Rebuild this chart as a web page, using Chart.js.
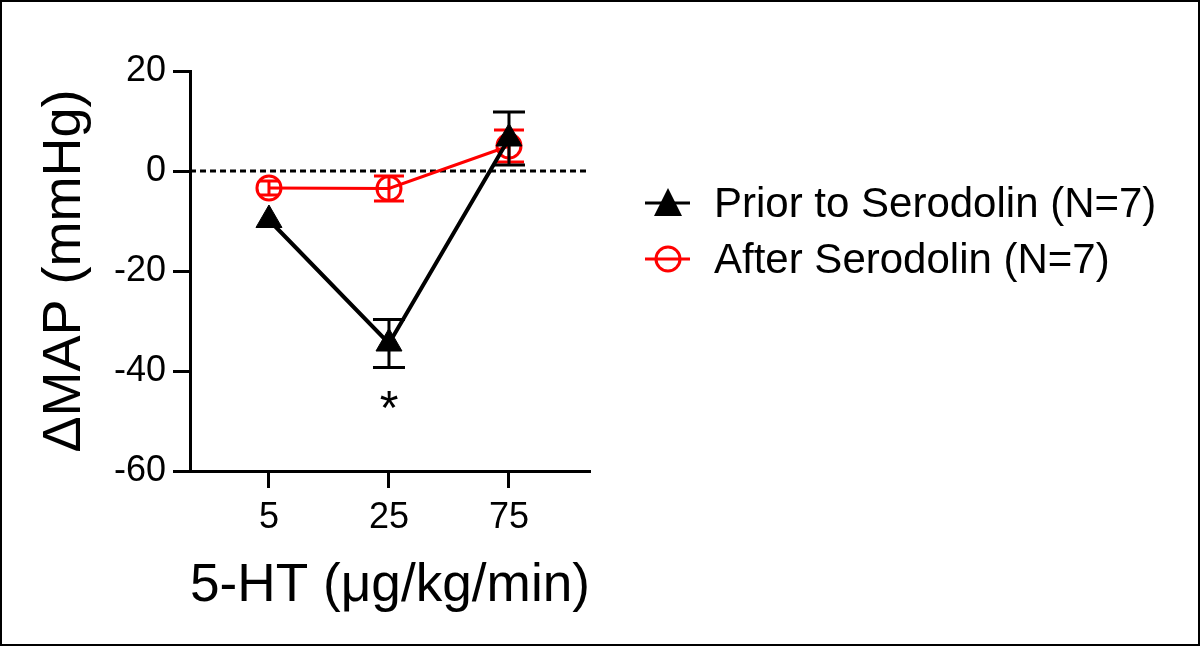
<!DOCTYPE html>
<html>
<head>
<meta charset="utf-8">
<script src="https://cdn.jsdelivr.net/npm/chart.js@4/dist/chart.umd.min.js"></script>
<style>
    html, body { margin: 0; padding: 0; background: #fff; overflow: hidden; }
    canvas { display: block; }
</style>
</head>
<body>
<canvas id="mapChart" width="1200" height="646"></canvas>
<script>
// 5-HT dose response, before / after serodolin
const doses = ['5', '25', '75'];
const priorMean = [-9.8, -34.5, 6.5];
const priorErr = [1.0, 4.8, 5.3];
const afterMean = [-3.4, -3.5, 5.0];
const afterErr = [1.4, 2.5, 3.2];
const yTicks = [-60, -40, -20, 0, 20];
const seriesNames = ['Prior to Serodolin (N=7)', 'After Serodolin (N=7)'];

const FONT = '"Liberation Sans", Arial, sans-serif';
const RED = '#ff0000';

let toPoints = function (means) {
    return doses.map(function (d, i) {
        return { x: i, y: means[i] };
    });
};

// zero reference line
let zeroLine = {
    id: 'zeroLine',
    beforeDatasetsDraw: function (chart) {
        let ctx = chart.ctx;
        let area = chart.chartArea;
        let y0 = chart.scales.y.getPixelForValue(0);
        ctx.save();
        ctx.strokeStyle = '#000';
        ctx.lineWidth = 3;
        ctx.setLineDash([6, 4]);
        ctx.beginPath();
        ctx.moveTo(area.left, y0);
        ctx.lineTo(area.right, y0);
        ctx.stroke();
        ctx.restore();
    }
};

// SEM bars, drawn with each dataset (hidden when smaller than the symbol, like Prism)
let errorBars = {
    id: 'errorBars',
    afterDatasetDraw: function (chart, args) {
        let ds = chart.data.datasets[args.index];
        let ctx = chart.ctx;
        let yScale = chart.scales.y;
        let r = ds.pointRadius;
        ctx.save();
        ctx.strokeStyle = ds.borderColor;
        ctx.lineWidth = 3;
        args.meta.data.forEach(function (pt, i) {
            let v = ds.data[i].y;
            let e = ds.errors[i];
            let top = yScale.getPixelForValue(v + e);
            let bot = yScale.getPixelForValue(v - e);
            let d = (bot - top) / 2;
            if (d < r * 0.5) return;
            let half = ds.capWidth / 2;
            if (ds.pointStyle === 'circle' && d < r) {
                half = Math.min(half, Math.sqrt(r * r - d * d));
            }
            ctx.beginPath();
            ctx.moveTo(pt.x, top);
            ctx.lineTo(pt.x, bot);
            ctx.moveTo(pt.x - half, top);
            ctx.lineTo(pt.x + half, top);
            ctx.moveTo(pt.x - half, bot);
            ctx.lineTo(pt.x + half, bot);
            ctx.stroke();
        });
        ctx.restore();
    }
};

// significance mark, legend and frame
let extras = {
    id: 'extras',
    afterDraw: function (chart) {
        let ctx = chart.ctx;
        let xs = chart.scales.x;
        let ys = chart.scales.y;
        ctx.save();

        ctx.fillStyle = '#000';
        ctx.font = '48px ' + FONT;
        ctx.textAlign = 'center';
        ctx.textBaseline = 'alphabetic';
        ctx.fillText('*', xs.getPixelForValue(1), ys.getPixelForValue(-50.5));

        let rows = [203, 259];
        chart.data.datasets.forEach(function (ds, i) {
            let y = rows[i];
            ctx.strokeStyle = ds.borderColor;
            ctx.lineWidth = 3;
            ctx.beginPath();
            ctx.moveTo(645, y);
            ctx.lineTo(690, y);
            ctx.stroke();
            if (ds.pointStyle === 'triangle') {
                ctx.fillStyle = ds.borderColor;
                ctx.beginPath();
                ctx.moveTo(668, y - 15);
                ctx.lineTo(682, y + 13);
                ctx.lineTo(654, y + 13);
                ctx.closePath();
                ctx.fill();
            } else {
                ctx.beginPath();
                ctx.arc(668, y, 12, 0, Math.PI * 2);
                ctx.stroke();
            }
            ctx.fillStyle = '#000';
            ctx.font = '42px ' + FONT;
            ctx.textAlign = 'left';
            ctx.textBaseline = 'middle';
            ctx.fillText(seriesNames[i], 714, y + 2);
        });

        ctx.strokeStyle = '#000';
        ctx.lineWidth = 2;
        ctx.setLineDash([]);
        ctx.strokeRect(1, 1, chart.width - 2, chart.height - 2);
        ctx.restore();
    }
};

let mapChartDraw = function () {
    let ctx = document.getElementById('mapChart').getContext('2d');

    window.mapChart = new Chart(ctx, {
        type: 'line',
        data: {
            datasets: [{
                label: seriesNames[0],
                data: toPoints(priorMean),
                errors: priorErr,
                capWidth: 32,
                borderColor: '#000',
                backgroundColor: '#000',
                borderWidth: 4,
                pointStyle: 'triangle',
                pointRadius: 15,
                pointBorderWidth: 1,
                pointBackgroundColor: '#000',
                tension: 0
            }, {
                label: seriesNames[1],
                data: toPoints(afterMean),
                errors: afterErr,
                capWidth: 30,
                borderColor: RED,
                backgroundColor: RED,
                borderWidth: 3,
                pointStyle: 'circle',
                pointRadius: 12,
                pointBorderWidth: 3,
                pointBackgroundColor: 'rgba(0,0,0,0)',
                tension: 0
            }]
        },
        options: {
            responsive: false,
            animation: false,
            layout: { padding: { left: 0, top: 71, right: 610, bottom: 0 } },
            plugins: {
                legend: { display: false },
                tooltip: { enabled: false }
            },
            scales: {
                x: {
                    type: 'linear',
                    min: -0.658,
                    max: 2.675,
                    afterBuildTicks: function (axis) {
                        axis.ticks = doses.map(function (d, i) { return { value: i }; });
                    },
                    afterFit: function (axis) { axis.height = 175; },
                    ticks: {
                        color: '#000',
                        font: { family: FONT, size: 36 },
                        padding: 8,
                        maxRotation: 0,
                        callback: function (v) { return doses[v]; }
                    },
                    grid: {
                        drawOnChartArea: false,
                        tickLength: 17,
                        tickWidth: 3,
                        color: '#000'
                    },
                    border: { color: '#000', width: 3 },
                    title: {
                        display: true,
                        text: '5-HT (μg/kg/min)',
                        color: '#000',
                        font: { family: FONT, size: 54 },
                        padding: { top: 0, bottom: 27 }
                    }
                },
                y: {
                    min: -60,
                    max: 20,
                    afterBuildTicks: function (axis) {
                        axis.ticks = yTicks.map(function (v) { return { value: v }; });
                    },
                    afterFit: function (axis) { axis.width = 190; },
                    ticks: {
                        color: '#000',
                        font: { family: FONT, size: 36 },
                        padding: 7
                    },
                    grid: {
                        drawOnChartArea: false,
                        tickLength: 17,
                        tickWidth: 3,
                        color: '#000'
                    },
                    border: { color: '#000', width: 3 },
                    title: {
                        display: true,
                        text: 'ΔMAP (mmHg)',
                        color: '#000',
                        font: { family: FONT, size: 54 },
                        padding: { top: 33, bottom: 0 }
                    }
                }
            }
        },
        plugins: [zeroLine, errorBars, extras]
    });
};

window.onload = function () {
    mapChartDraw();
};
</script>
</body>
</html>
